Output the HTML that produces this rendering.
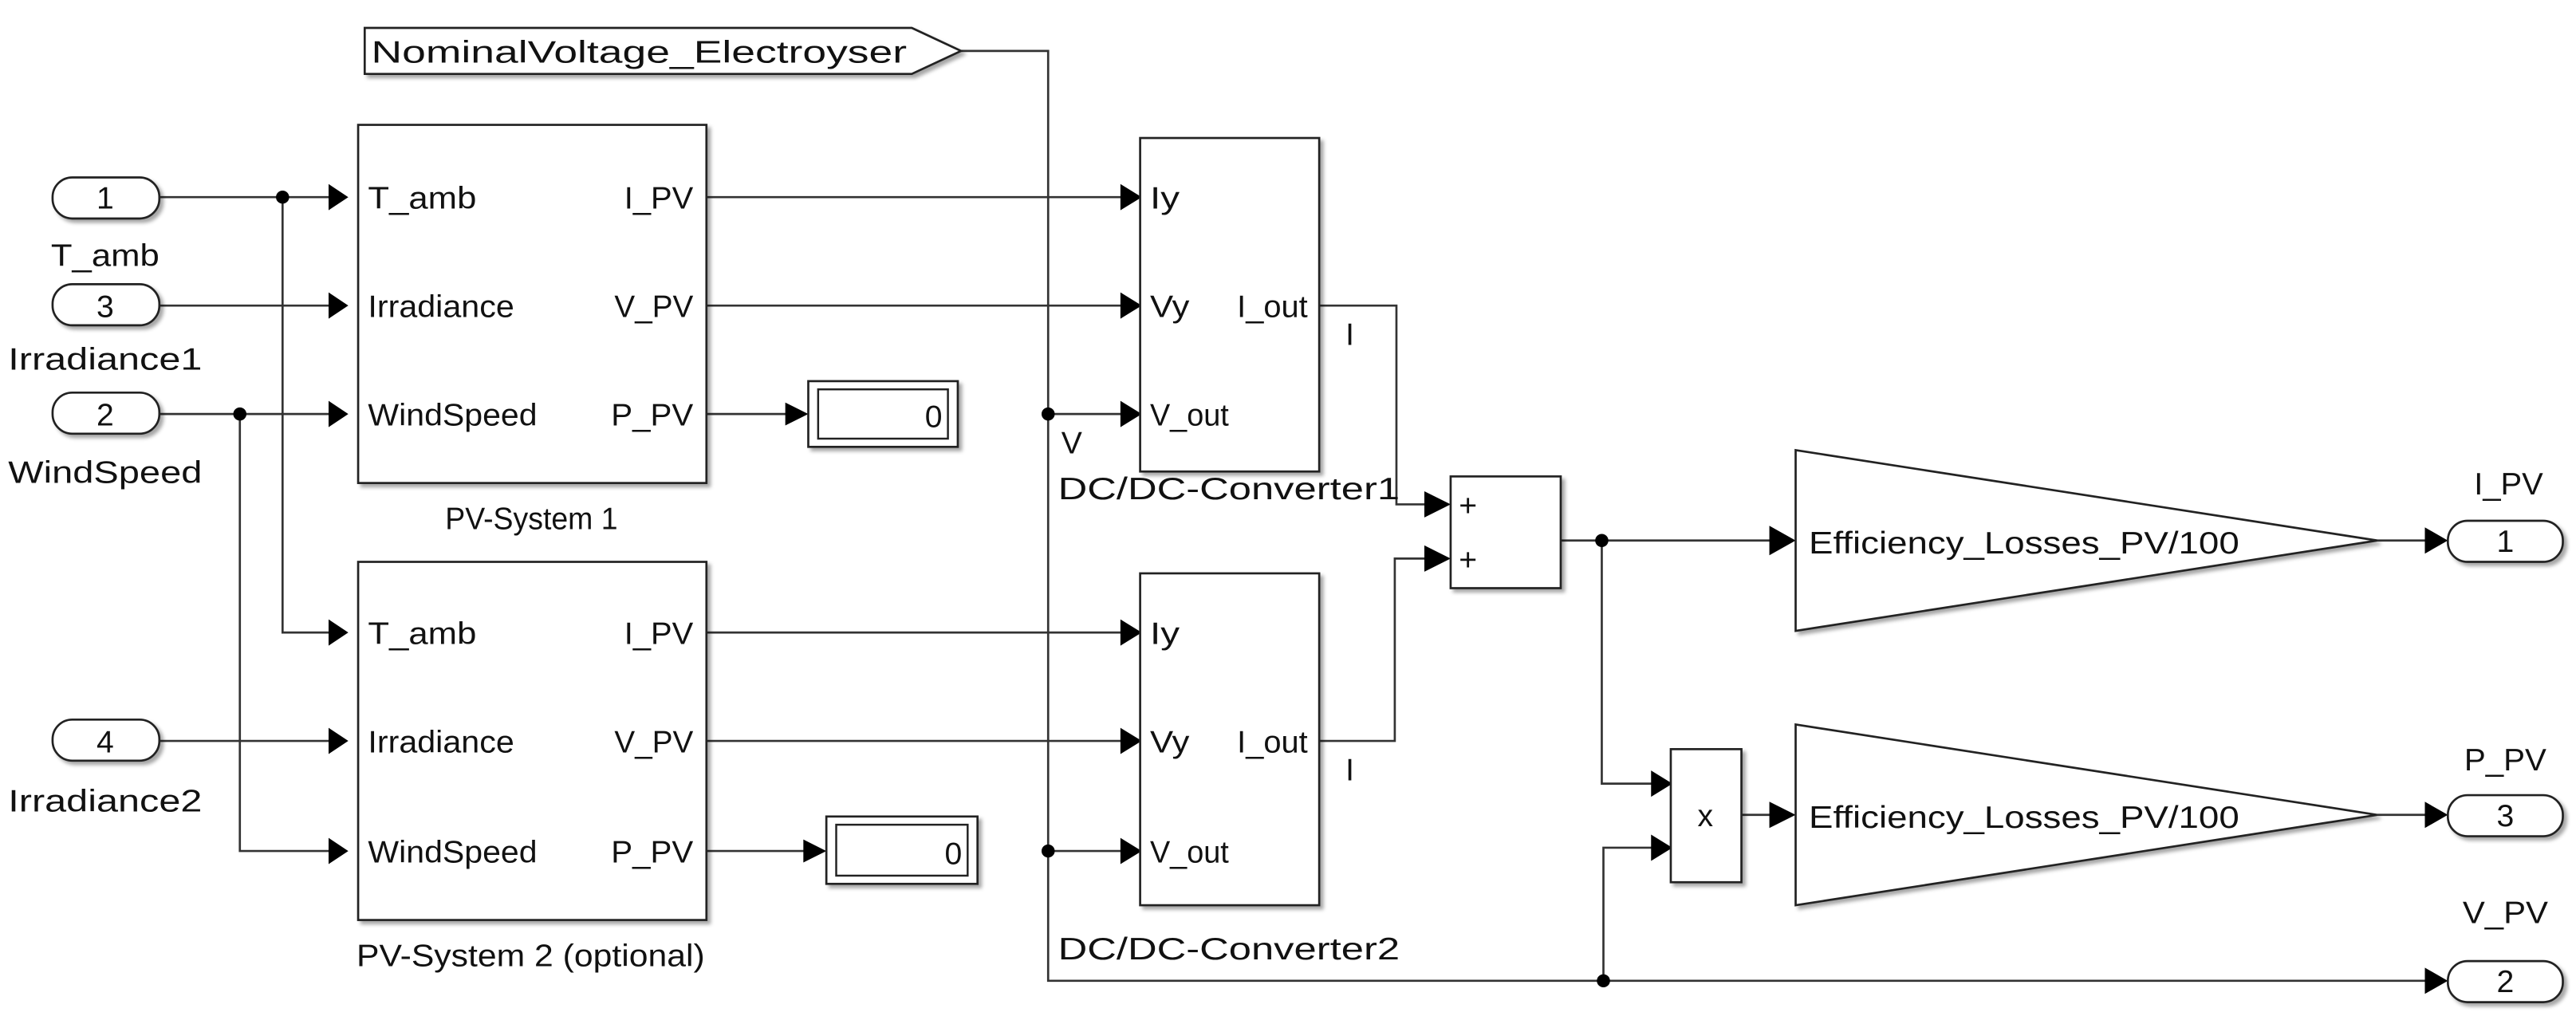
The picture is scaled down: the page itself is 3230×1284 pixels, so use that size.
<!DOCTYPE html>
<html><head><meta charset="utf-8"><style>
html,body{margin:0;padding:0;background:#fff;}
svg{display:block;}
text{font-family:"Liberation Sans Narrow","Liberation Sans",Arial,sans-serif;fill:#111;}
</style></head><body>
<svg width="3230" height="1284" viewBox="0 0 1568 623.3" preserveAspectRatio="none" xmlns="http://www.w3.org/2000/svg">
<defs>
<filter id="sh" x="-10%" y="-10%" width="130%" height="130%"><feDropShadow dx="2" dy="2" stdDeviation="1.2" flood-color="#000" flood-opacity="0.35"/></filter>
</defs>
<g fill="none" stroke="#333" stroke-width="1.3">
<polyline points="585,31 638,31 638,597 1482,597"/>
<line x1="638" y1="252" x2="686" y2="252"/>
<line x1="638" y1="518" x2="686" y2="518"/>
<line x1="97" y1="120" x2="210" y2="120"/>
<line x1="97" y1="186" x2="210" y2="186"/>
<line x1="97" y1="252" x2="210" y2="252"/>
<polyline points="172,120 172,385 210,385"/>
<polyline points="146,252 146,518 210,518"/>
<line x1="97" y1="451" x2="210" y2="451"/>
<line x1="430" y1="120" x2="686" y2="120"/>
<line x1="430" y1="186" x2="686" y2="186"/>
<line x1="430" y1="252" x2="484" y2="252"/>
<line x1="430" y1="385" x2="686" y2="385"/>
<line x1="430" y1="451" x2="686" y2="451"/>
<line x1="430" y1="518" x2="495" y2="518"/>
<polyline points="803,186 850,186 850,307 875,307"/>
<polyline points="803,451 849,451 849,340 875,340"/>
<line x1="950" y1="329" x2="1085" y2="329"/>
<polyline points="975,329 975,477 1009,477"/>
<polyline points="976,597 976,516 1009,516"/>
<line x1="1060" y1="496" x2="1085" y2="496"/>
<line x1="1447" y1="329" x2="1482" y2="329"/>
<line x1="1447" y1="496" x2="1482" y2="496"/>
</g>
<g fill="#000">
<path d="M200,112 L212,120 L200,128Z"/><path d="M200,178 L212,186 L200,194Z"/><path d="M200,244 L212,252 L200,260Z"/>
<path d="M200,377 L212,385 L200,393Z"/><path d="M200,443 L212,451 L200,459Z"/><path d="M200,510 L212,518 L200,526Z"/>
<path d="M478,245 L492,252 L478,259Z"/><path d="M489,511 L503,518 L489,525Z"/>
<path d="M682,112 L695,120 L682,128Z"/><path d="M682,178 L695,186 L682,194Z"/><path d="M682,244 L695,252 L682,260Z"/>
<path d="M682,377 L695,385 L682,393Z"/><path d="M682,443 L695,451 L682,459Z"/><path d="M682,510 L695,518 L682,526Z"/>
<path d="M867,299 L883,307 L867,315Z"/><path d="M867,332 L883,340 L867,348Z"/>
<path d="M1077,320 L1093,329 L1077,338Z"/><path d="M1077,488 L1093,496 L1077,504Z"/>
<path d="M1005,469 L1018,477 L1005,485Z"/><path d="M1005,508 L1018,516 L1005,524Z"/>
<path d="M1476,321 L1490,329 L1476,337Z"/><path d="M1476,488 L1490,496 L1476,504Z"/><path d="M1476,589 L1490,597 L1476,605Z"/>
<circle cx="172" cy="120" r="4"/><circle cx="146" cy="252" r="4"/>
<circle cx="638" cy="252" r="4"/><circle cx="638" cy="518" r="4"/>
<circle cx="975" cy="329" r="4"/><circle cx="976" cy="597" r="4"/>
</g>
<g fill="#fff" stroke="#222" stroke-width="1.3" filter="url(#sh)">
<path d="M222,17 L555,17 L585,31 L555,45 L222,45Z"/>
<rect x="32" y="108" width="65" height="25" rx="12"/>
<rect x="32" y="173" width="65" height="25" rx="12"/>
<rect x="32" y="239" width="65" height="25" rx="12"/>
<rect x="32" y="438" width="65" height="25" rx="12"/>
<rect x="218" y="76" width="212" height="218"/>
<rect x="218" y="342" width="212" height="218"/>
<rect x="492" y="232" width="91" height="40"/>
<rect x="503" y="497" width="92" height="41"/>
<rect x="694" y="84" width="109" height="203"/>
<rect x="694" y="349" width="109" height="202"/>
<rect x="883" y="290" width="67" height="68"/>
<rect x="1017" y="456" width="43" height="81"/>
<path d="M1093,274 L1447,329 L1093,384Z"/>
<path d="M1093,441 L1447,496 L1093,551Z"/>
<rect x="1490" y="317" width="70" height="25" rx="12"/>
<rect x="1490" y="484" width="70" height="25" rx="12"/>
<rect x="1490" y="585" width="70" height="25" rx="12"/>
</g>
<g fill="none" stroke="#222" stroke-width="1.2">
<rect x="498" y="237" width="79" height="30"/>
<rect x="509" y="502" width="80" height="31"/>
</g>
<g font-size="19">
<text x="226" y="38" textLength="326" lengthAdjust="spacingAndGlyphs">NominalVoltage_Electroyser</text>
<g text-anchor="middle">
<text x="64" y="127">1</text><text x="64" y="193">3</text><text x="64" y="259">2</text><text x="64" y="458">4</text>
<text x="1525" y="336">1</text><text x="1525" y="503">3</text><text x="1525" y="604">2</text>
<text x="1038" y="503">x</text>
</g>
<text x="31" y="162" textLength="66" lengthAdjust="spacingAndGlyphs">T_amb</text>
<text x="5" y="225" textLength="118" lengthAdjust="spacingAndGlyphs">Irradiance1</text>
<text x="5" y="294" textLength="118" lengthAdjust="spacingAndGlyphs">WindSpeed</text>
<text x="5" y="494" textLength="118" lengthAdjust="spacingAndGlyphs">Irradiance2</text>
<text x="271" y="322" textLength="105" lengthAdjust="spacingAndGlyphs">PV-System 1</text>
<text x="217" y="588" textLength="212" lengthAdjust="spacingAndGlyphs">PV-System 2 (optional)</text>
<text x="644" y="304" textLength="208" lengthAdjust="spacingAndGlyphs">DC/DC-Converter1</text>
<text x="644" y="584" textLength="208" lengthAdjust="spacingAndGlyphs">DC/DC-Converter2</text>
<text x="1506" y="301" textLength="42" lengthAdjust="spacingAndGlyphs">I_PV</text>
<text x="1500" y="469" textLength="50" lengthAdjust="spacingAndGlyphs">P_PV</text>
<text x="1499" y="562" textLength="52" lengthAdjust="spacingAndGlyphs">V_PV</text>
<text x="224" y="127" textLength="66" lengthAdjust="spacingAndGlyphs">T_amb</text>
<text x="224" y="193" textLength="89" lengthAdjust="spacingAndGlyphs">Irradiance</text>
<text x="224" y="259" textLength="103" lengthAdjust="spacingAndGlyphs">WindSpeed</text>
<text x="224" y="392" textLength="66" lengthAdjust="spacingAndGlyphs">T_amb</text>
<text x="224" y="458" textLength="89" lengthAdjust="spacingAndGlyphs">Irradiance</text>
<text x="224" y="525" textLength="103" lengthAdjust="spacingAndGlyphs">WindSpeed</text>
<text x="380" y="127" textLength="42" lengthAdjust="spacingAndGlyphs">I_PV</text>
<text x="374" y="193" textLength="48" lengthAdjust="spacingAndGlyphs">V_PV</text>
<text x="372" y="259" textLength="50" lengthAdjust="spacingAndGlyphs">P_PV</text>
<text x="380" y="392" textLength="42" lengthAdjust="spacingAndGlyphs">I_PV</text>
<text x="374" y="458" textLength="48" lengthAdjust="spacingAndGlyphs">V_PV</text>
<text x="372" y="525" textLength="50" lengthAdjust="spacingAndGlyphs">P_PV</text>
<text x="563" y="260">0</text><text x="575" y="526">0</text>
<text x="753" y="193" textLength="43" lengthAdjust="spacingAndGlyphs">I_out</text>
<text x="753" y="458" textLength="43" lengthAdjust="spacingAndGlyphs">I_out</text>
<text x="700" y="127" textLength="18" lengthAdjust="spacingAndGlyphs">Iy</text>
<text x="700" y="193" textLength="24" lengthAdjust="spacingAndGlyphs">Vy</text>
<text x="700" y="259" textLength="48" lengthAdjust="spacingAndGlyphs">V_out</text>
<text x="700" y="392" textLength="18" lengthAdjust="spacingAndGlyphs">Iy</text>
<text x="700" y="458" textLength="24" lengthAdjust="spacingAndGlyphs">Vy</text>
<text x="700" y="525" textLength="48" lengthAdjust="spacingAndGlyphs">V_out</text>
<text x="819" y="210">I</text><text x="819" y="475">I</text>
<text x="646" y="276">V</text>
<text x="888" y="314">+</text><text x="888" y="347">+</text>
<text x="1101" y="337" textLength="262" lengthAdjust="spacingAndGlyphs">Efficiency_Losses_PV/100</text>
<text x="1101" y="504" textLength="262" lengthAdjust="spacingAndGlyphs">Efficiency_Losses_PV/100</text>
</g>
</svg>
</body></html>
